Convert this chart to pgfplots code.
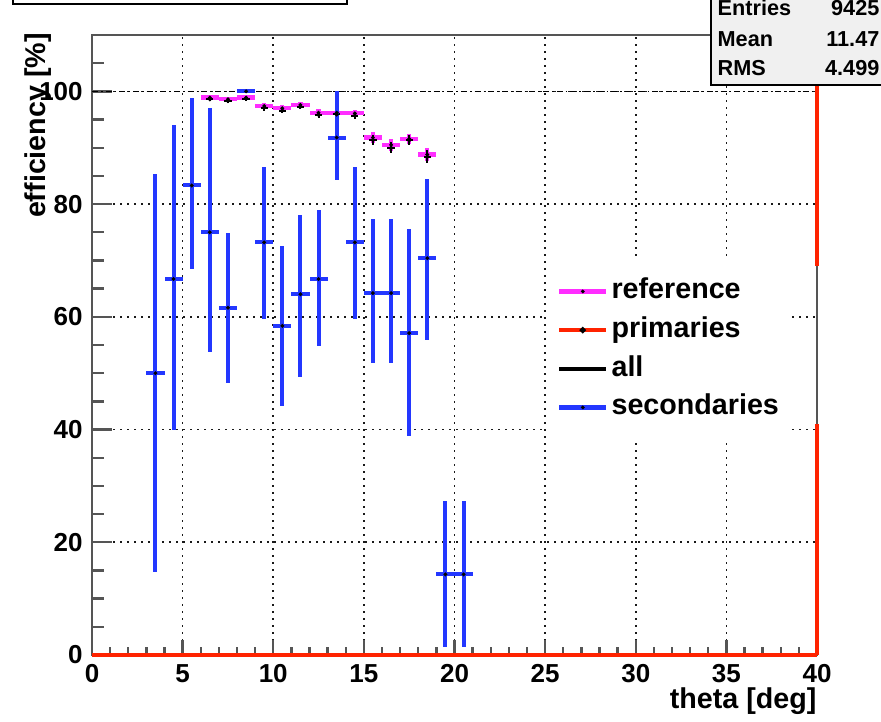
\documentclass[border=0pt]{standalone}
\usepackage{fontspec}
\setmainfont{Liberation Sans}
\usepackage{pgfplots}
\usepackage{pgfplotstable}
\pgfplotsset{compat=1.18}

\definecolor{rootblue}{RGB}{35,55,255}
\definecolor{rootmag}{RGB}{255,45,255}
\definecolor{rootred}{RGB}{255,35,0}
\definecolor{framegray}{RGB}{85,85,85}

% efficiency of the reference sample
\pgfplotstableread{
x     y     ex   ey
6.5   98.9  0.5  0.4
7.5   98.6  0.5  0.4
8.5   98.9  0.5  0.4
9.5   97.4  0.5  0.5
10.5  97.0  0.5  0.5
11.5  97.6  0.5  0.5
12.5  96.2  0.5  0.6
13.5  96.2  0.5  0.6
14.5  96.1  0.5  0.6
15.5  91.8  0.5  0.9
16.5  90.5  0.5  1.0
17.5  91.6  0.5  0.9
18.5  88.8  0.5  1.2
}\reftab

% efficiency of all tracks
\pgfplotstableread{
x     y     ex    ey
6.5   98.6  0.2   0.4
7.5   98.3  0.2   0.4
8.5   98.7  0.2   0.4
9.5   97.1  0.2   0.5
10.5  96.6  0.2   0.5
11.5  97.3  0.2   0.5
12.5  95.8  0.2   0.6
13.5  95.9  0.2   0.6
14.5  95.7  0.2   0.6
15.5  91.4  0.2   0.9
16.5  90.0  0.2   1.0
17.5  91.3  0.2   0.9
18.5  88.4  0.2   1.2
}\alltab

% efficiency of secondaries (asymmetric errors)
\pgfplotstableread{
x     y      ex   ep    em
3.5   50.0   0.5  35.4  35.2
4.5   66.7   0.5  27.3  26.8
5.5   83.3   0.5  15.5  14.9
6.5   75.0   0.5  22.0  21.2
7.5   61.6   0.5  13.3  13.4
8.5   100.0  0.5  0.0   0.0
9.5   73.2   0.5  13.3  13.6
10.5  58.4   0.5  14.2  14.3
11.5  64.0   0.5  14.1  14.7
12.5  66.7   0.5  12.2  11.8
13.5  91.8   0.5  8.2   7.6
14.5  73.2   0.5  13.3  13.6
15.5  64.2   0.5  13.1  12.4
16.5  64.2   0.5  13.1  12.4
17.5  57.1   0.5  18.5  18.3
18.5  70.4   0.5  14.0  14.6
19.5  14.3   0.5  13.0  12.8
20.5  14.3   0.5  13.0  12.8
}\sectab

\begin{document}
\begin{tikzpicture}
\useasboundingbox (0,0) rectangle (264.3pt,216.3pt);
\begin{axis}[
  at={(27.6pt,19.8pt)}, anchor=south west,
  scale only axis, width=217.5pt, height=186pt,
  xmin=0, xmax=40, ymin=0, ymax=110,
  clip=false,
  axis line style={framegray, line width=0.8pt},
  tick pos=left, tick align=inside,
  xtick={0,5,...,40}, ytick={0,20,...,100},
  minor xtick={1,2,3,4,6,7,8,9,11,12,13,14,16,17,18,19,21,22,23,24,26,27,28,29,31,32,33,34,36,37,38,39},
  minor ytick={5,10,15,25,30,35,45,50,55,65,70,75,85,90,95,105},
  xtick style={framegray, line width=0.7pt, /pgfplots/major tick length=4.5pt, /pgfplots/minor tick length=2.3pt},
  ytick style={framegray, line width=0.7pt, /pgfplots/major tick length=6pt, /pgfplots/minor tick length=3.6pt},
  grid=major,
  major grid style={black!90, line width=0.5pt, dash pattern=on 0.5pt off 1.6pt},
  /pgf/number format/assume math mode=true,
  ticklabel style={font=\fontsize{7.8}{9}\selectfont\bfseries},
  xticklabel style={anchor=north, inner sep=0pt, yshift=-2.6pt},
  yticklabel style={anchor=east, inner sep=0pt, xshift=-2.6pt},
  xlabel={theta [deg]},
  ylabel={efficiency [\%]},
  label style={font=\fontsize{8.6}{10}\selectfont\bfseries},
  xlabel style={at={(axis description cs:1,-0.052)}, anchor=north east, inner sep=0pt},
  ylabel style={at={(axis description cs:-0.074,1.004)}, anchor=east, inner sep=0pt},
  legend style={at={(0.627,0.637)}, anchor=north west, draw=none, fill=white,
    font=\fontsize{8.6}{10}\selectfont\bfseries, row sep=1.2pt,
    inner xsep=3pt, inner ysep=4pt,
    nodes={text height=6.4pt, text depth=2pt, inner sep=1pt}},
  legend cell align=left,
]

% dash-dotted line at full efficiency
\addplot[forget plot, black, line width=0.45pt, dash pattern=on 1.8pt off 0.9pt on 0.5pt off 0.9pt]
  coordinates {(0,100) (40,100)};

% reference
\addplot[rootmag, only marks, mark=*, mark size=0.35pt, mark options={fill=black, draw=black},
  legend image code/.code={
    \draw[rootmag, line width=1.3pt] (0pt,0pt) -- (14pt,0pt);
    \fill[black] (7pt,0pt) circle (0.35pt);},
  error bars/.cd, x dir=both, x explicit, y dir=both, y explicit,
  error bar style={line width=1.3pt, rootmag}, error mark=none]
  table[x=x, y=y, x error=ex, y error=ey] {\reftab};
\addlegendentry{reference}

% primaries
\addplot[rootred, line width=1pt,
  legend image code/.code={
    \draw[rootred, line width=1.3pt] (0pt,0pt) -- (14pt,0pt);
    \fill[black] (7pt,0pt) circle (0.35pt);}]
  coordinates {(0,0) (40,0)};
\addlegendentry{primaries}
\addplot[forget plot, rootred, line width=1pt] coordinates {(40,0) (40,41)};
\addplot[forget plot, rootred, line width=1pt] coordinates {(40,69) (40,110)};

% all
\addplot[black, only marks, mark=*, mark size=0.4pt,
  legend image code/.code={
    \draw[black, line width=1.3pt] (0pt,0pt) -- (14pt,0pt);},
  error bars/.cd, x dir=both, x explicit, y dir=both, y explicit,
  error bar style={line width=0.6pt, black}, error mark=none]
  table[x=x, y=y, x error=ex, y error=ey] {\alltab};
\addlegendentry{all}

% secondaries
\addplot[rootblue, only marks, mark=*, mark size=0.35pt, mark options={fill=black, draw=black},
  legend image code/.code={
    \draw[rootblue, line width=1.3pt] (0pt,0pt) -- (14pt,0pt);
    \fill[black] (7pt,0pt) circle (0.35pt);},
  error bars/.cd, x dir=both, x explicit, y dir=both, y explicit,
  error bar style={line width=1.2pt, rootblue}, error mark=none]
  table[x=x, y=y, x error=ex, y error plus=ep, y error minus=em] {\sectab};
\addlegendentry{secondaries}
\end{axis}

% title box and statistics box (top edge of the canvas)
\begin{scope}[x=0.3pt, y=-0.3pt, shift={(0,216.3pt)}]
  \clip (0,0) rectangle (881,721);
  \draw[black, line width=0.8pt, fill=white] (13,-30) rectangle (347,4);
  \draw[black, line width=0.8pt, fill=black!6] (711,-30) rectangle (900,85);
  \begin{scope}[every node/.style={font=\fontsize{6.5}{7}\selectfont\bfseries, inner sep=0pt}]
    \node[anchor=base west] at (717,16) {Entries};
    \node[anchor=base east] at (880,16) {9425};
    \node[anchor=base west] at (717,47) {Mean};
    \node[anchor=base east] at (880,47) {11.47};
    \node[anchor=base west] at (717,76) {RMS};
    \node[anchor=base east] at (880,76) {4.499};
  \end{scope}
\end{scope}
\end{tikzpicture}
\end{document}
